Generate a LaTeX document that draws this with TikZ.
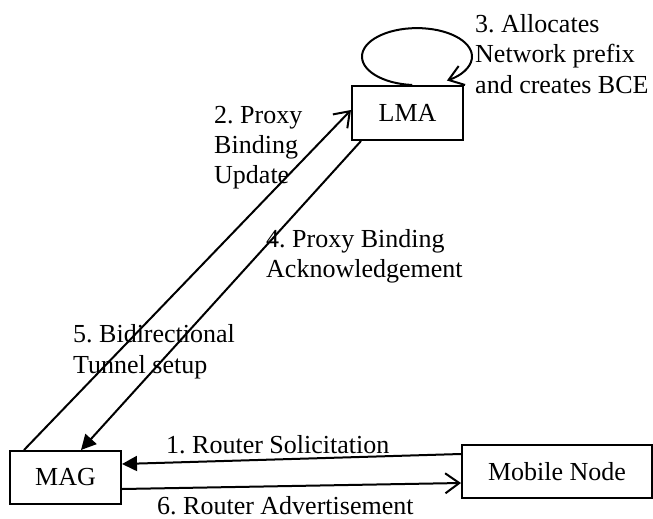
\documentclass[tikz,border=0pt]{standalone}
\usepackage{fontspec}
\setmainfont{Liberation Serif}
\usetikzlibrary{arrows.meta}
\frenchspacing
\begin{document}
\begin{tikzpicture}[x=1pt, y=-1pt,
  every node/.style={font=\fontsize{26}{30}\selectfont},
  entity/.style={draw, line width=2pt, rectangle, inner sep=0pt, align=center},
  lbl/.style={anchor=base west, inner sep=0pt},
  link/.style={line width=2pt},
  openhead/.style={-{Straight Barb[length=14pt, width=20pt, line width=2pt]}},
  fullhead/.style={-{Triangle[length=15pt, width=15pt]}}]
\useasboundingbox (0,0) rectangle (653,519);

% network entities
\node[entity, minimum width=111pt, minimum height=54pt] (lma) at (407.5,113) {LMA};
\node[entity, minimum width=111pt, minimum height=53pt] (mag) at (65.5,477.5) {MAG};
\node[entity, minimum width=190pt, minimum height=53pt] (mn) at (557,471.5) {Mobile Node};

% self loop on the LMA
\draw[link, openhead] ([xshift=4.7pt]lma.north)
  arc[start angle=265, end angle=-57, x radius=55pt, y radius=28.5pt];

% MAG <-> LMA signalling
\draw[link, openhead] ([xshift=15pt]mag.north west) -- ([yshift=3pt]lma.west);
\draw[link, fullhead] ([xshift=10pt]lma.south west) -- ([xshift=72pt]mag.north west);

% MAG <-> Mobile Node
\draw[link, fullhead] ([yshift=-10pt]mn.north west) -- ([yshift=13.5pt]mag.east);
\draw[link, openhead] ([yshift=-11.5pt]mag.east) -- ([yshift=-11.5pt]mn.west);

% step labels
\node[lbl] (s3a) at (475,33) {3. Allocates};
\node[lbl] (s3b) at (475,63) {Network prefix};
\node[lbl] (s3c) at (475,93) {and creates BCE};

\node[lbl] (s2a) at (214,123) {2. Proxy};
\node[lbl] (s2b) at (214,153) {Binding};
\node[lbl] (s2c) at (214,183) {Update};

\node[lbl] (s4a) at (266,247) {4. Proxy Binding};
\node[lbl] (s4b) at (266,277) {Acknowledgement};

\node[lbl] (s5a) at (73,342) {5. Bidirectional};
\node[lbl] (s5b) at (73,373) {Tunnel setup};

\node[lbl] (s1) at (166,453) {1. Router Solicitation};
\node[lbl] (s6) at (157,514) {6. Router Advertisement};
\end{tikzpicture}
\end{document}
